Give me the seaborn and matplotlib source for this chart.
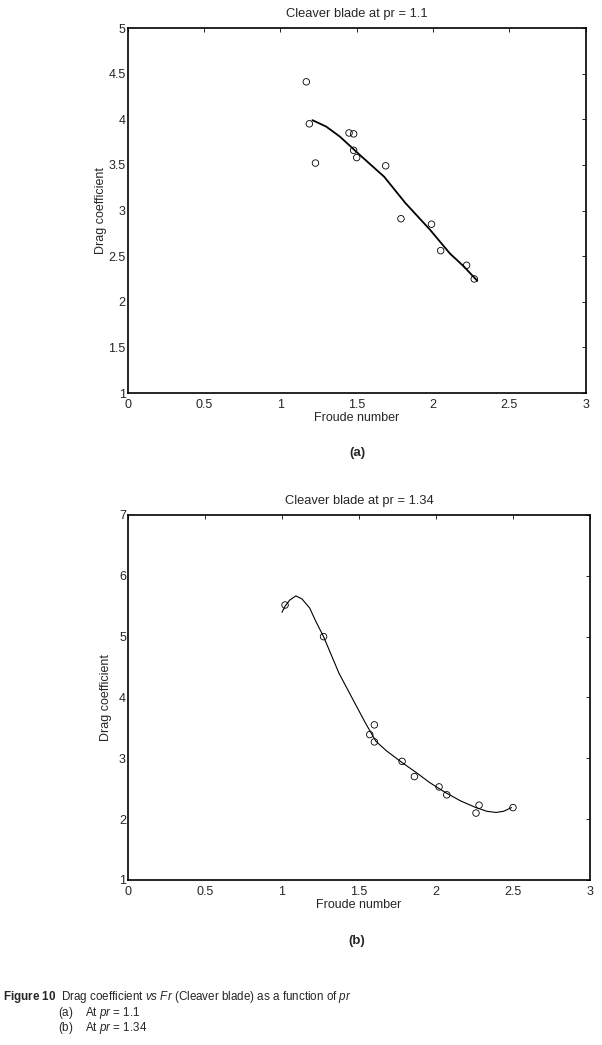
import numpy as np
import pandas as pd
import seaborn as sns
import matplotlib.pyplot as plt

# measured points, pr = 1.1
fr_a = [1.17, 1.19, 1.23, 1.45, 1.48, 1.48, 1.50, 1.69, 1.79, 1.99, 2.05, 2.22, 2.27]
cd_a = [4.41, 3.95, 3.52, 3.85, 3.84, 3.66, 3.58, 3.49, 2.91, 2.85, 2.56, 2.40, 2.25]
# fitted curve, pr = 1.1
fit_fr_a = [1.21, 1.30, 1.39, 1.52, 1.68, 1.82, 1.98, 2.11, 2.20, 2.29]
fit_cd_a = [3.99, 3.92, 3.81, 3.61, 3.37, 3.08, 2.79, 2.53, 2.39, 2.23]

# measured points, pr = 1.34
fr_b = [1.02, 1.27, 1.60, 1.57, 1.60, 1.78, 1.86, 2.02, 2.07, 2.28, 2.26, 2.50]
cd_b = [5.52, 5.00, 3.55, 3.39, 3.27, 2.95, 2.70, 2.53, 2.40, 2.23, 2.10, 2.19]
# fitted curve, pr = 1.34
fit_fr_b = [1.00, 1.02, 1.05, 1.09, 1.13, 1.18, 1.22, 1.27, 1.32, 1.37, 1.46, 1.54,
            1.61, 1.68, 1.78, 1.87, 1.96, 2.06, 2.16, 2.26, 2.33, 2.39, 2.44, 2.49]
fit_cd_b = [5.40, 5.50, 5.60, 5.67, 5.62, 5.47, 5.25, 5.00, 4.70, 4.40, 3.97, 3.59,
            3.28, 3.12, 2.93, 2.77, 2.60, 2.44, 2.30, 2.19, 2.13, 2.11, 2.13, 2.19]

xticks = [0, 0.5, 1, 1.5, 2, 2.5, 3]
xticklabels = ['0', '0.5', '1', '1.5', '2', '2.5', '3']
yticks_a = [1, 1.5, 2, 2.5, 3, 3.5, 4, 4.5, 5]
yticklabels_a = ['1', '1.5', '2', '2.5', '3', '3.5', '4', '4.5', '5']
yticks_b = [1, 2, 3, 4, 5, 6, 7]
yticklabels_b = ['1', '2', '3', '4', '5', '6', '7']

sns.set_style('white')
plt.rcParams['font.family'] = ['Liberation Sans', 'DejaVu Sans']
plt.rcParams['mathtext.fontset'] = 'custom'
plt.rcParams['mathtext.rm'] = 'Liberation Sans'
plt.rcParams['mathtext.it'] = 'Liberation Sans:italic'
plt.rcParams['mathtext.bf'] = 'Liberation Sans:bold'

fig = plt.figure(figsize=(6.02, 10.45), dpi=100)
ax1 = fig.add_axes([0.2121, 0.6239, 0.7608, 0.3493])
ax2 = fig.add_axes([0.2126, 0.1579, 0.7674, 0.3493])


def draw_panel(ax, fr, cd, fit_fr, fit_cd, yticks, yticklabels, title, lw, ylpad):
    pts = pd.DataFrame({'fr': fr, 'cd': cd})
    fit = pd.DataFrame({'fr': fit_fr, 'cd': fit_cd})
    sns.lineplot(data=fit, x='fr', y='cd', ax=ax, color='black', lw=lw, sort=False)
    sns.scatterplot(data=pts, x='fr', y='cd', ax=ax, marker='o', s=22,
                    facecolor='none', edgecolor='black', linewidth=0.6)
    ax.set_xlim(0, 3)
    ax.set_ylim(yticks[0], yticks[-1])
    ax.set_xticks(xticks)
    ax.set_xticklabels(xticklabels)
    ax.set_yticks(yticks)
    ax.set_yticklabels(yticklabels)
    ax.tick_params(direction='in', length=3, width=0.6, labelsize=9,
                   top=True, right=True, color='black')
    ax.tick_params(axis='y', pad=1.5)
    ax.tick_params(axis='x', pad=4)
    for s in ax.spines.values():
        s.set_color('black')
        s.set_linewidth(1.2)
    ax.set_xlabel('Froude number', fontsize=9, labelpad=1)
    ax.set_ylabel('Drag coefficient', fontsize=9, labelpad=ylpad)
    ax.set_title(title, fontsize=9.3, pad=8)


draw_panel(ax1, fr_a, cd_a, fit_fr_a, fit_cd_a, yticks_a, yticklabels_a,
           'Cleaver blade at pr = 1.1', 1.3, 1)
draw_panel(ax2, fr_b, cd_b, fit_fr_b, fit_cd_b, yticks_b, yticklabels_b,
           'Cleaver blade at pr = 1.34', 0.8, 5)

fig.text(357 / 602, 1 - 453 / 1045, '(a)', fontsize=9.5, fontweight='bold',
         ha='center', va='center')
fig.text(357 / 602, 1 - 941 / 1045, '(b)', fontsize=9.5, fontweight='bold',
         ha='center', va='center')

fig.text(3 / 602, 1 - 997 / 1045,
         r'$\bf{Figure\ 10}$  Drag coefficient $\it{vs}$ $\it{Fr}$ (Cleaver blade) as a function of $\it{pr}$',
         fontsize=8.4, ha='left', va='center')
fig.text(58 / 602, 1 - 1013 / 1045, r'(a)    At $\it{pr}$ = 1.1',
         fontsize=8.4, ha='left', va='center')
fig.text(58 / 602, 1 - 1028 / 1045, r'(b)    At $\it{pr}$ = 1.34',
         fontsize=8.4, ha='left', va='center')

fig.savefig('out.png', dpi=100)
